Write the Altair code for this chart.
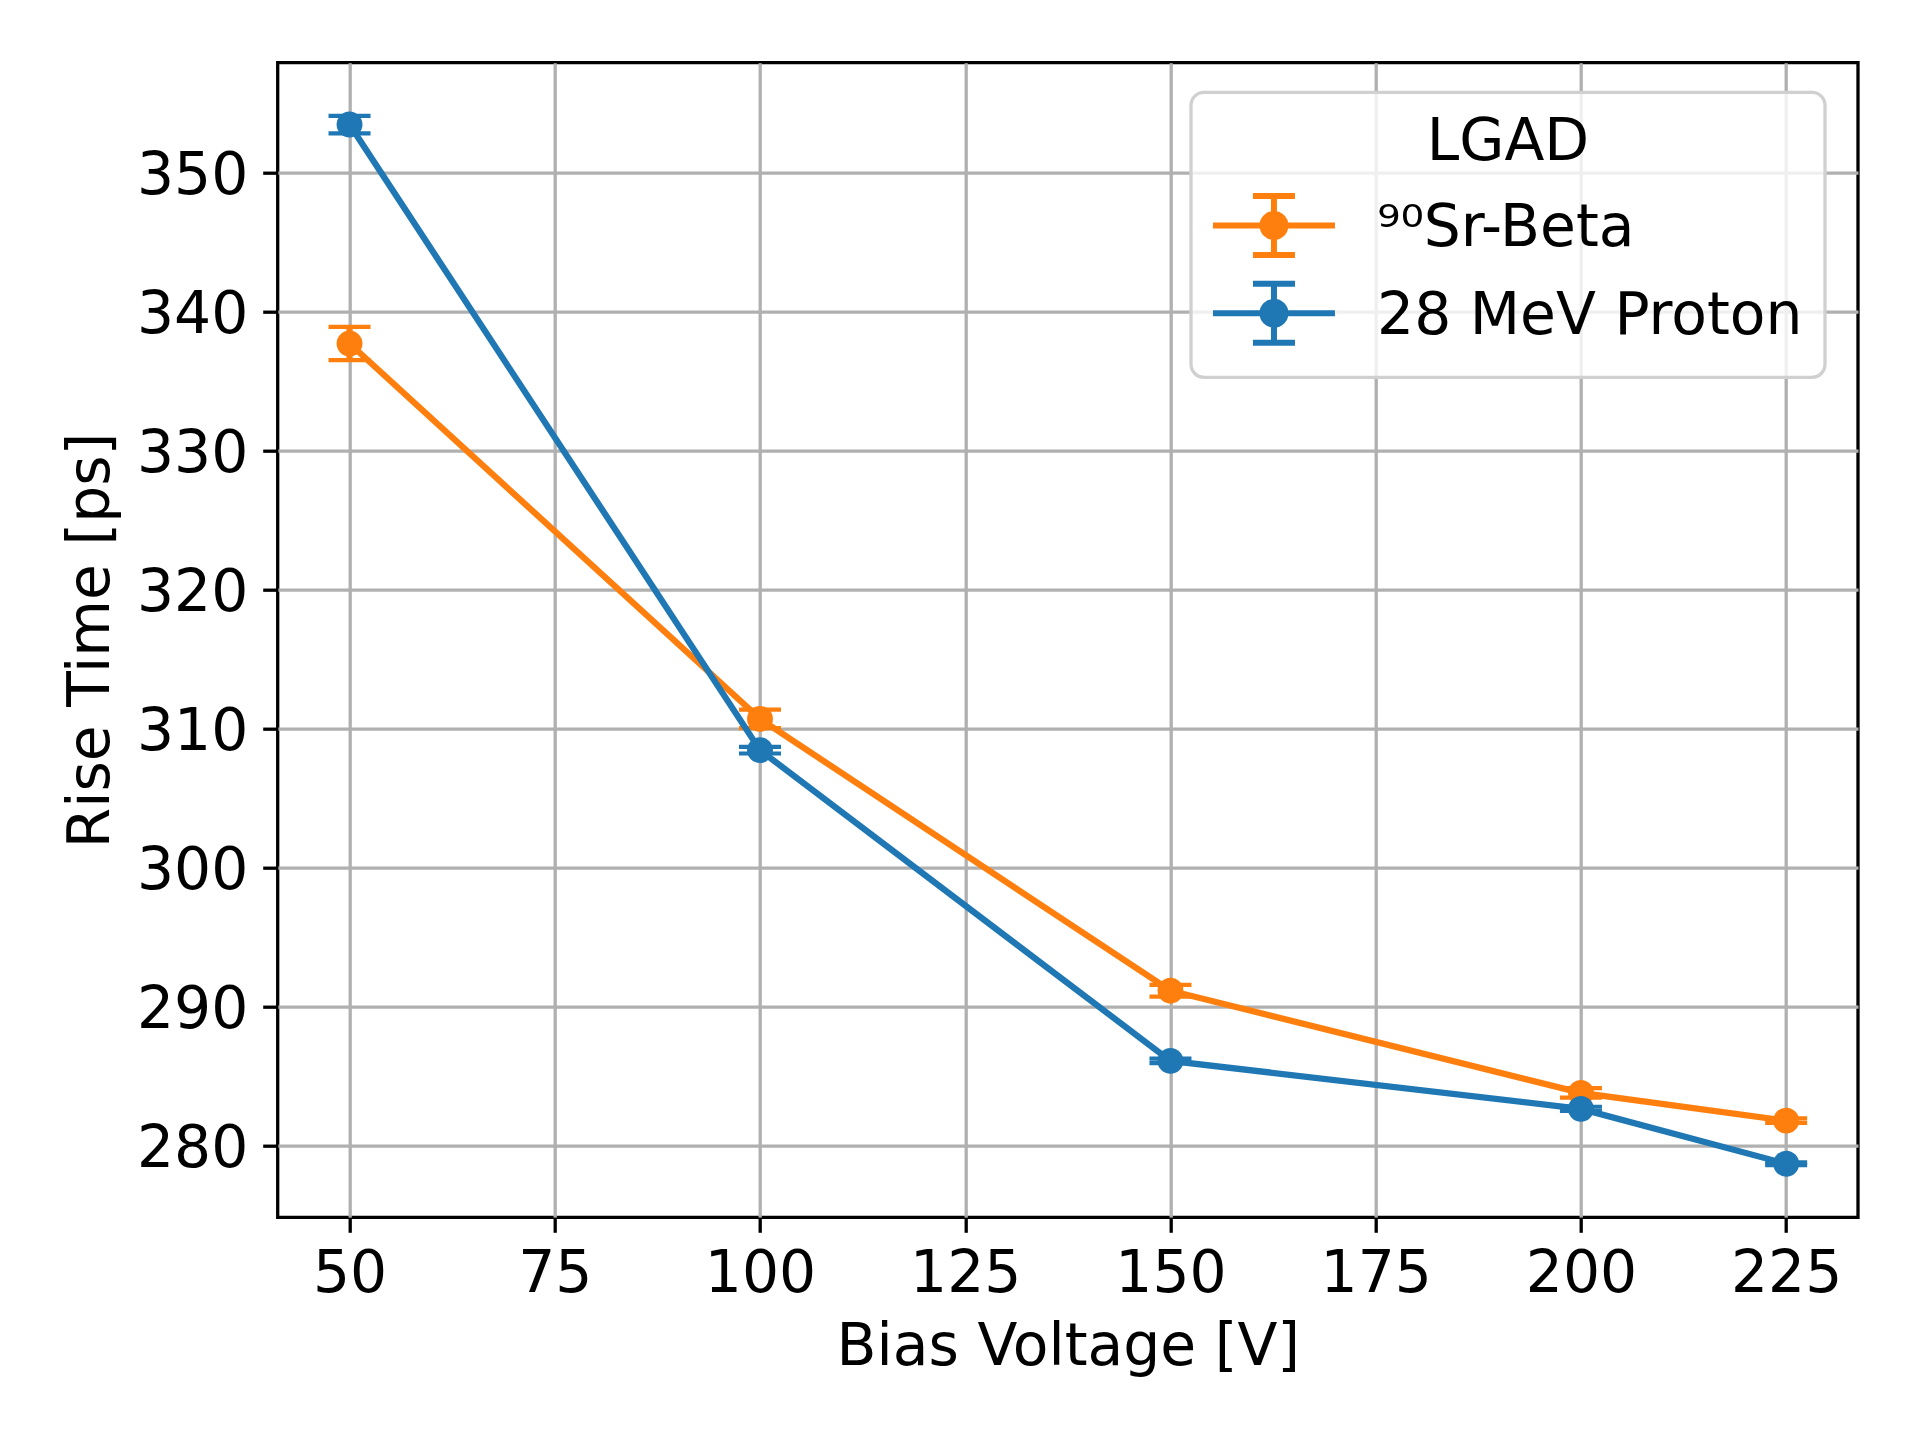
import altair as alt
import pandas as pd

# ---- data ----
voltages = [50, 100, 150, 200, 225]
sr_rise = [337.7, 310.7, 291.15, 283.8, 281.8]
sr_err = [1.2, 0.67, 0.42, 0.34, 0.16]
p_rise = [353.45, 308.45, 286.1, 282.65, 278.7]
p_err = [0.63, 0.24, 0.16, 0.15, 0.1]
series_names = ["\u2079\u2070Sr-Beta", "28 MeV Proton"]
series_colors = ["#ff7f0e", "#1f77b4"]
x_ticks = [50, 75, 100, 125, 150, 175, 200, 225]
y_ticks = [280, 290, 300, 310, 320, 330, 340, 350]

rows = []
for name, vals, errs in [(series_names[0], sr_rise, sr_err), (series_names[1], p_rise, p_err)]:
    for v, r, e in zip(voltages, vals, errs):
        rows.append({"series": name, "V": v, "rise": r, "lo": r - e, "hi": r + e})
df = pd.DataFrame(rows)

FONT = "DejaVu Sans"
FS = 58.33
LW = 6.25

color_scale = alt.Scale(domain=series_names, range=series_colors)
x_scale = alt.Scale(domain=[41.25, 233.75], nice=False, zero=False)
y_scale = alt.Scale(domain=[274.85, 357.9], nice=False, zero=False)

# legend glyph (unit = 26 px): line + error bar + caps + stroked concentric marker disc
c = -0.127
H = 1.135
def ring(r):
    return f"M{-r},{c}A{r},{r},0,1,1,{r},{c}A{r},{r},0,1,1,{-r},{c}Z"
legend_path = (f"M-2.346,{c}L2.346,{c}"
               f"M0,{c-H:.3f}L0,{c+H:.3f}"
               f"M-0.808,{c-H:.3f}L0.808,{c-H:.3f}"
               f"M-0.808,{c+H:.3f}L0.808,{c+H:.3f}"
               + ring(0.442) + ring(0.212) + ring(0.038))

legend = alt.Legend(
    title="LGAD", orient="none", legendX=913.3, legendY=29.6,
    symbolType=legend_path, symbolSize=2704, symbolStrokeWidth=6,
    symbolOffset=31.8, labelOffset=73.9, labelFontSize=FS, labelFont=FONT,
    labelColor="black", labelLimit=0,
    titleFontSize=FS, titleFont=FONT, titleFontWeight="normal", titleColor="black",
    titleAnchor="middle", titleAlign="center", titlePadding=27,
    rowPadding=3.8, padding=22,
    fillColor="rgba(255,255,255,0.8)", strokeColor="#d0d0d0", cornerRadius=13,
)

x_axis = alt.Axis(
    values=x_ticks, title="Bias Voltage [V]", labelFontSize=FS, labelFont=FONT,
    labelColor="black", tickSize=15, tickWidth=3.3, tickColor="black",
    labelPadding=13.4, titleFontSize=FS, titleFont=FONT, titleFontWeight="normal",
    titleColor="black", titleBaseline="alphabetic", titleY=147.7,
    domain=False, grid=True, gridColor="#b0b0b0", gridWidth=3.3,
    labelFlush=False, labelOverlap=False,
)
y_axis = alt.Axis(
    values=y_ticks, title="Rise Time [ps]", labelFontSize=FS, labelFont=FONT,
    labelColor="black", tickSize=15, tickWidth=3.3, tickColor="black",
    labelPadding=14.9, labelBaseline="alphabetic", labelOffset=21.3,
    titleFontSize=FS, titleFont=FONT, titleFontWeight="normal", titleColor="black",
    titleBaseline="alphabetic", titleAngle=270, titleAlign="center",
    titleX=-169.4, titleY=577.3,
    domain=False, grid=True, gridColor="#b0b0b0", gridWidth=3.3,
    labelFlush=False, labelOverlap=False,
)

layers = []
for i, name in enumerate(series_names):
    base = alt.Chart(df).transform_filter(alt.datum.series == name)
    col_nolegend = alt.Color("series:N", scale=color_scale, legend=None)
    col_legend = alt.Color("series:N", scale=color_scale, legend=legend)
    line = base.mark_line(strokeWidth=LW).encode(
        x=alt.X("V:Q", scale=x_scale, axis=x_axis),
        y=alt.Y("rise:Q", scale=y_scale, axis=y_axis),
        color=col_legend if i == 0 else col_nolegend,
    )
    bars = base.mark_rule(strokeWidth=LW).encode(
        x="V:Q", y="lo:Q", y2="hi:Q", color=col_nolegend,
    )
    cap_lo = base.mark_tick(orient="horizontal", size=42, thickness=4.2, opacity=1).encode(
        x="V:Q", y="lo:Q", color=col_nolegend,
    )
    cap_hi = base.mark_tick(orient="horizontal", size=42, thickness=4.2, opacity=1).encode(
        x="V:Q", y="hi:Q", color=col_nolegend,
    )
    dots = base.mark_circle(size=670, opacity=1).encode(
        x="V:Q", y="rise:Q", color=col_nolegend,
    )
    layers += [line, bars, cap_lo, cap_hi, dots]

chart = alt.layer(*layers).properties(
    width=1580.3, height=1154.6,
    autosize=alt.AutoSizeParams(type="none"),
    padding={"left": 269.7, "top": 54.7, "right": 40, "bottom": 200},
).configure(
    background="white"
).configure_view(
    stroke="black", strokeWidth=3.3
).configure_legend(
    strokeWidth=3.3,
)

chart.save("out.html", embed_options={"renderer": "svg", "actions": False})
